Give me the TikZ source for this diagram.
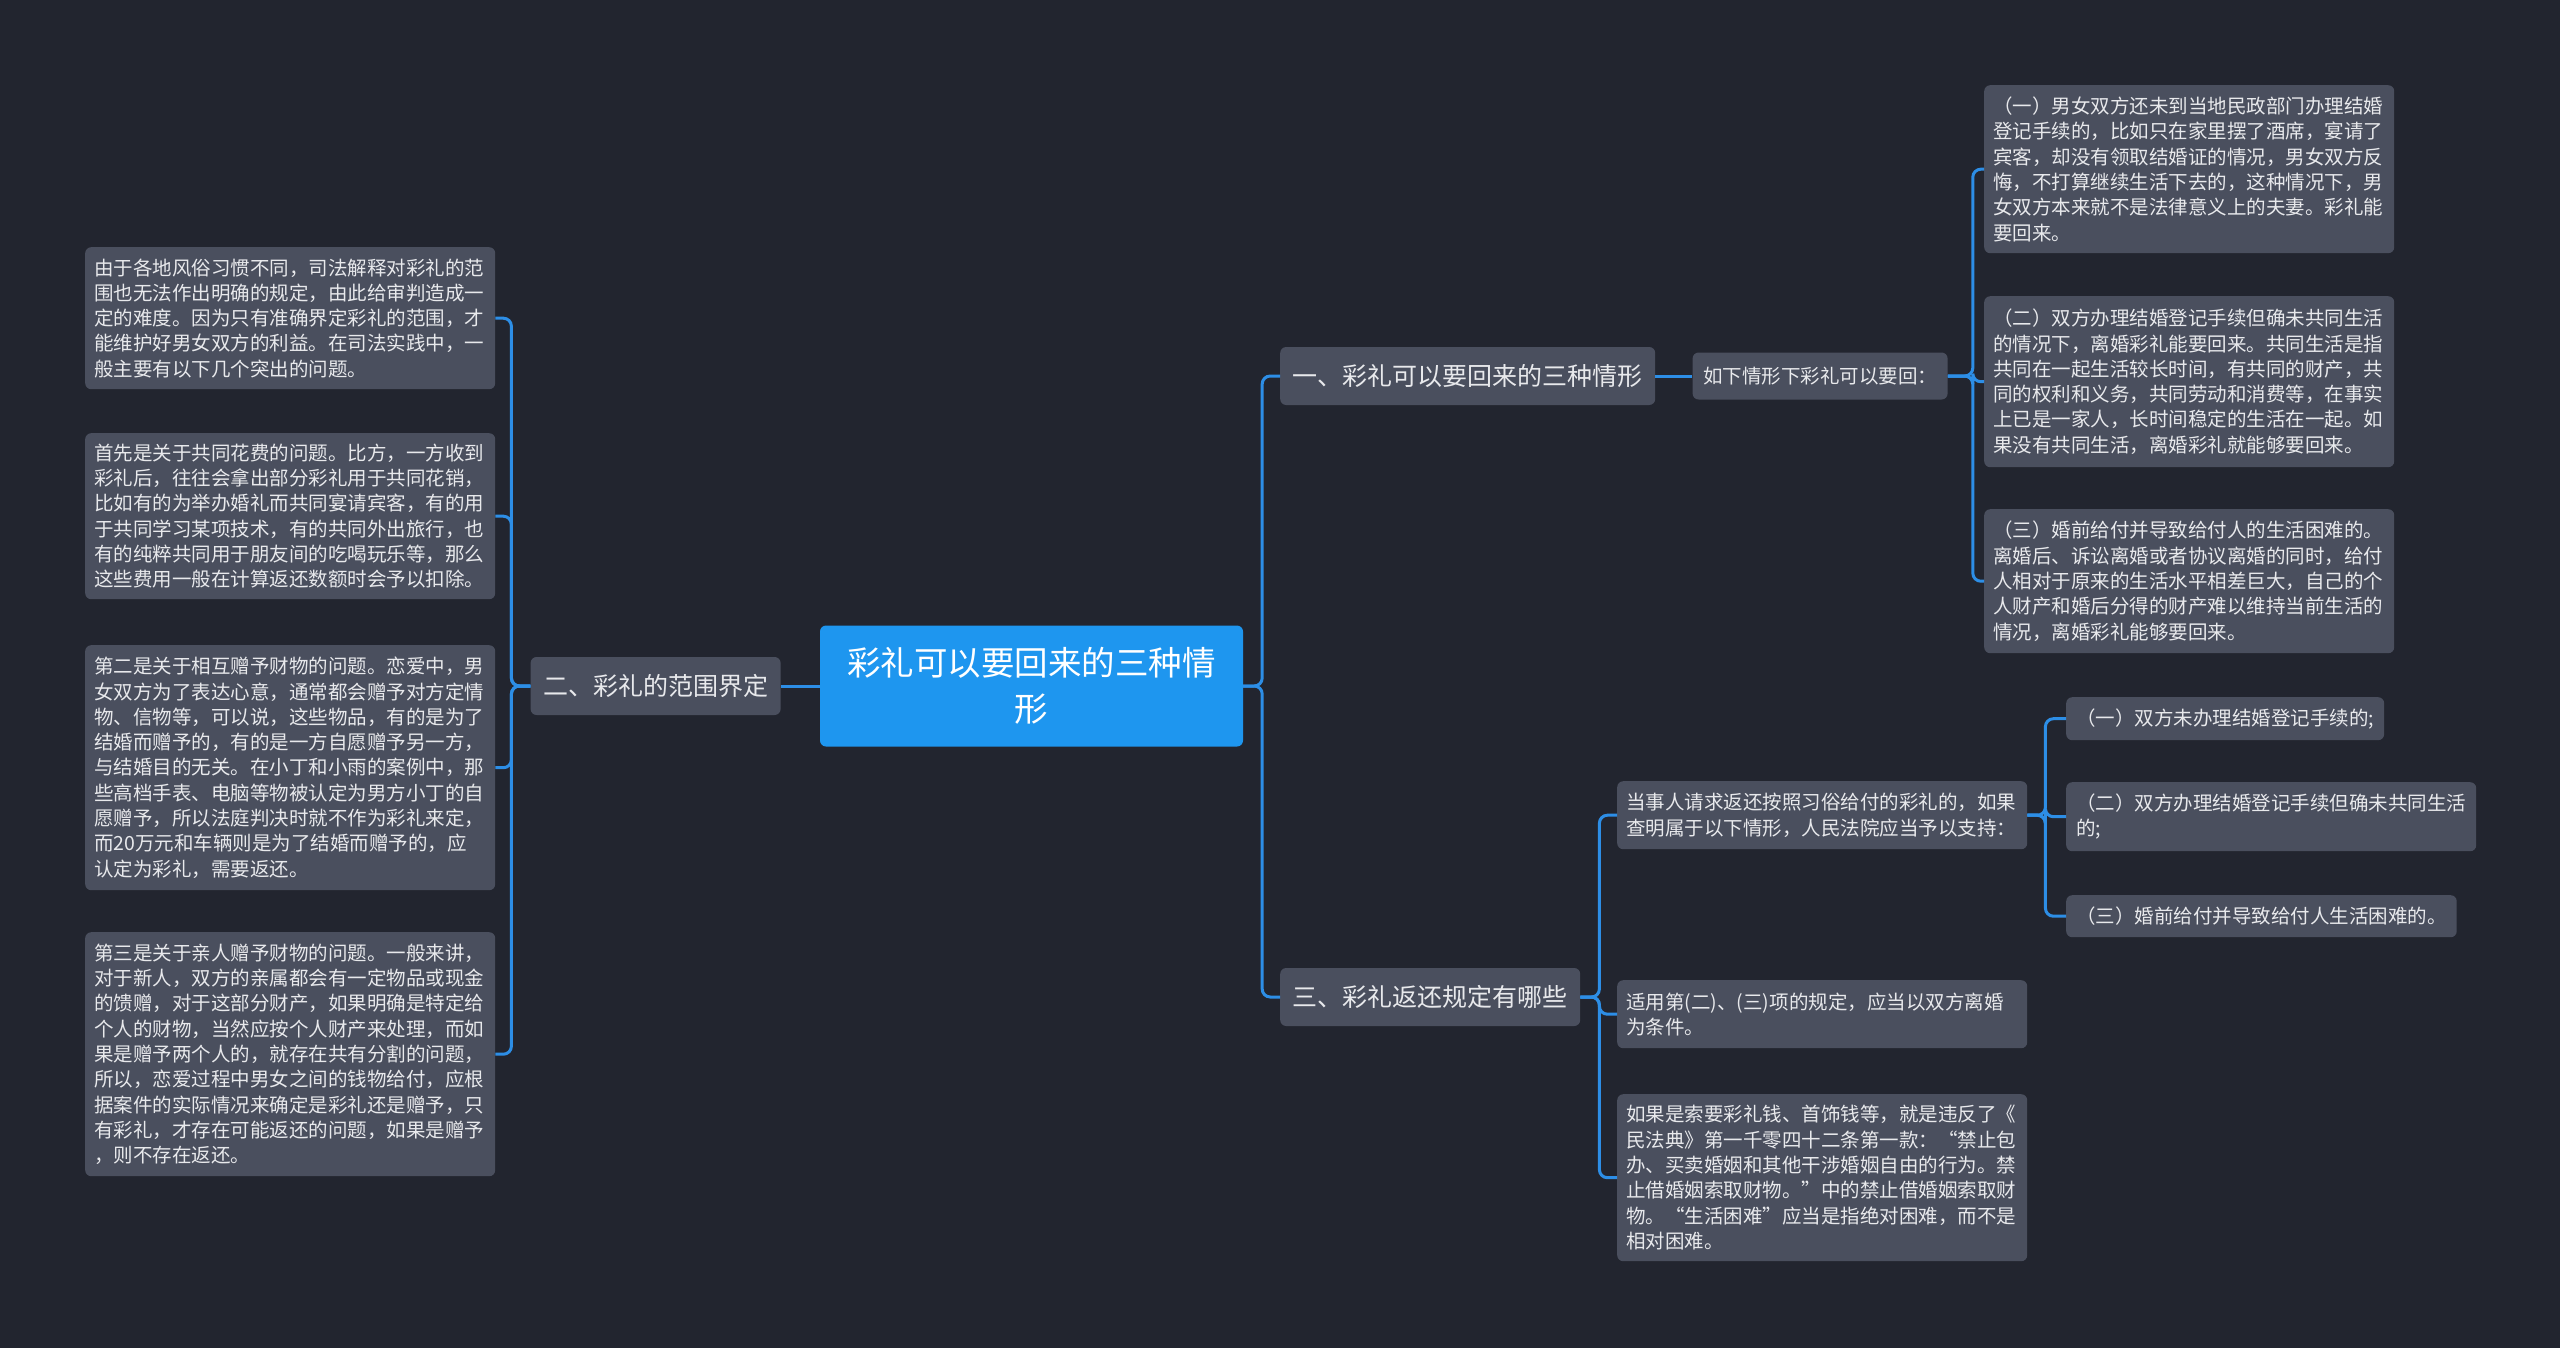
\documentclass[tikz,border=0pt]{standalone}
\usepackage{fontspec}
\newfontfamily\cjk{Noto Sans CJK SC}
\usetikzlibrary{positioning}
\definecolor{bgdark}{HTML}{22252F}
\definecolor{boxgray}{HTML}{4A4F5E}
\definecolor{rootblue}{HTML}{1E96EF}
\definecolor{linkblue}{HTML}{2D8EE6}
\definecolor{textlight}{HTML}{E8E9EC}
\tikzset{
  mmnode/.style={
    rectangle, rounded corners=6pt, fill=boxgray, text=textlight,
    inner ysep=4pt
  },
  mmroot/.style={mmnode, fill=rootblue, text=white,
    font=\cjk\fontsize{33.5}{45.7}\selectfont, align=center,
    minimum width=423pt, minimum height=121pt},
  mmmain/.style={mmnode, font=\cjk\fontsize{25}{30}\selectfont,
    inner xsep=12.5pt, minimum height=58pt},
  mmsub/.style={mmnode, font=\cjk\fontsize{19.5}{25.3}\selectfont,
    inner xsep=10.5pt, minimum height=47pt},
  mmleaf/.style={mmnode, font=\cjk\fontsize{19.5}{25.3}\selectfont,
    align=left, text width=392pt, inner xsep=9pt, anchor=north west},
  mmshort/.style={mmnode, font=\cjk\fontsize{19.5}{25.3}\selectfont,
    align=left, inner xsep=10pt, anchor=north west},
  mmedge/.style={draw=linkblue, line width=3pt, rounded corners=8pt},
}

\begin{document}
\begin{tikzpicture}[x=1pt, y=-1pt]
  \useasboundingbox (0,0) rectangle (2560,1347);
  \fill[bgdark] (-10,-10) rectangle (2570,1357);

  % centre and main branches
  \node (root) [mmroot] at (1031.5,686) {彩礼可以要回来的三种情\\形};
  \node (er) [mmmain, left=39pt of root] {二、彩礼的范围界定};
  \node (yi) [mmmain, anchor=west] at (1280,376) {一、彩礼可以要回来的三种情形};
  \node (ruxia) [mmsub, right=37pt of yi] {如下情形下彩礼可以要回：};
  \node (san) [mmmain, anchor=west] at (1280,997) {三、彩礼返还规定有哪些};

  % left leaves
  \node (l1) [mmleaf, minimum height=142pt] at (85,247) {由于各地风俗习惯不同，司法解释对彩礼的范\\围也无法作出明确的规定，由此给审判造成一\\定的难度。因为只有准确界定彩礼的范围，才\\能维护好男女双方的利益。在司法实践中，一\\般主要有以下几个突出的问题。};
  \node (l2) [mmleaf, minimum height=166pt] at (85,433) {首先是关于共同花费的问题。比方，一方收到\\彩礼后，往往会拿出部分彩礼用于共同花销，\\比如有的为举办婚礼而共同宴请宾客，有的用\\于共同学习某项技术，有的共同外出旅行，也\\有的纯粹共同用于朋友间的吃喝玩乐等，那么\\这些费用一般在计算返还数额时会予以扣除。};
  \node (l3) [mmleaf, minimum height=245pt] at (85,645) {第二是关于相互赠予财物的问题。恋爱中，男\\女双方为了表达心意，通常都会赠予对方定情\\物、信物等，可以说，这些物品，有的是为了\\结婚而赠予的，有的是一方自愿赠予另一方，\\与结婚目的无关。在小丁和小雨的案例中，那\\些高档手表、电脑等物被认定为男方小丁的自\\愿赠予，所以法庭判决时就不作为彩礼来定，\\而20万元和车辆则是为了结婚而赠予的，应\\认定为彩礼，需要返还。};
  \node (l4) [mmleaf, minimum height=244pt] at (85,932) {第三是关于亲人赠予财物的问题。一般来讲，\\对于新人，双方的亲属都会有一定物品或现金\\的馈赠，对于这部分财产，如果明确是特定给\\个人的财物，当然应按个人财产来处理，而如\\果是赠予两个人的，就存在共有分割的问题，\\所以，恋爱过程中男女之间的钱物给付，应根\\据案件的实际情况来确定是彩礼还是赠予，只\\有彩礼，才存在可能返还的问题，如果是赠予\\，则不存在返还。};

  % right leaves of branch one
  \node (r1) [mmleaf, minimum height=168pt] at (1984,85) {（一）男女双方还未到当地民政部门办理结婚\\登记手续的，比如只在家里摆了酒席，宴请了\\宾客，却没有领取结婚证的情况，男女双方反\\悔，不打算继续生活下去的，这种情况下，男\\女双方本来就不是法律意义上的夫妻。彩礼能\\要回来。};
  \node (r2) [mmleaf, minimum height=171pt] at (1984,296) {（二）双方办理结婚登记手续但确未共同生活\\的情况下，离婚彩礼能要回来。共同生活是指\\共同在一起生活较长时间，有共同的财产，共\\同的权利和义务，共同劳动和消费等，在事实\\上已是一家人，长时间稳定的生活在一起。如\\果没有共同生活，离婚彩礼就能够要回来。};
  \node (r3) [mmleaf, minimum height=144pt] at (1984,509) {（三）婚前给付并导致给付人的生活困难的。\\离婚后、诉讼离婚或者协议离婚的同时，给付\\人相对于原来的生活水平相差巨大，自己的个\\人财产和婚后分得的财产难以维持当前生活的\\情况，离婚彩礼能够要回来。};

  % leaves of branch three
  \node (ds) [mmleaf, minimum height=68pt] at (1617,781) {当事人请求返还按照习俗给付的彩礼的，如果\\查明属于以下情形，人民法院应当予以支持：};
  \node (sy) [mmleaf, minimum height=68pt] at (1617,980) {适用第(二)、(三)项的规定，应当以双方离婚\\为条件。};
  \node (rg) [mmleaf, minimum height=167pt] at (1617,1094) {如果是索要彩礼钱、首饰钱等，就是违反了《\\民法典》第一千零四十二条第一款：“禁止包\\办、买卖婚姻和其他干涉婚姻自由的行为。禁\\止借婚姻索取财物。”中的禁止借婚姻索取财\\物。“生活困难”应当是指绝对困难，而不是\\相对困难。};
  \node (d1) [mmshort, minimum height=43pt] at (2066,697) {（一）双方未办理结婚登记手续的;};
  \node (d2) [mmshort, minimum height=69pt] at (2066,782) {（二）双方办理结婚登记手续但确未共同生活\\的;};
  \node (d3) [mmshort, minimum height=42pt] at (2066,895) {（三）婚前给付并导致给付人生活困难的。};

  % connectors
  \draw[mmedge] (root.west) -- (er.east);
  \draw[mmedge] (root.east) -- ++(19,0) |- (yi.west);
  \draw[mmedge] (root.east) -- ++(19,0) |- (san.west);
  \draw[mmedge] (yi.east) -- (ruxia.west);
  \foreach \leaf in {r1,r2,r3}
    \draw[mmedge] (ruxia.east) -- ++(25,0) |- (\leaf.west);
  \foreach \leaf in {ds,sy,rg}
    \draw[mmedge] (san.east) -- ++(19,0) |- (\leaf.west);
  \foreach \leaf in {d1,d2,d3}
    \draw[mmedge] (ds.east) -- ++(18,0) |- (\leaf.west);
  \foreach \leaf in {l1,l2,l3,l4}
    \draw[mmedge] (er.west) -- ++(-19,0) |- (\leaf.east);
\end{tikzpicture}
\end{document}
